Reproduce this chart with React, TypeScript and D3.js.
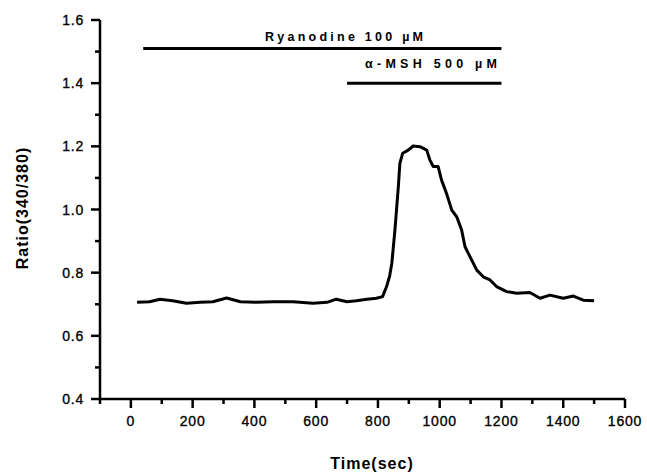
import React from "react";
import * as d3 from "d3";

const time = [20, 60, 95, 135, 180, 225, 265, 310, 355, 405, 460, 525, 590, 635, 665, 700, 730, 765, 795, 815, 828, 838, 845, 855, 866, 871, 880, 898, 914, 936, 958, 968, 979, 995, 1006, 1022, 1039, 1055, 1071, 1082, 1098, 1120, 1141, 1163, 1184, 1217, 1249, 1292, 1325, 1357, 1400, 1433, 1465, 1500];
const ratio = [0.706, 0.708, 0.716, 0.711, 0.703, 0.706, 0.708, 0.72, 0.708, 0.706, 0.708, 0.708, 0.703, 0.706, 0.716, 0.708, 0.711, 0.716, 0.719, 0.724, 0.756, 0.79, 0.83, 0.935, 1.072, 1.146, 1.178, 1.188, 1.201, 1.199, 1.188, 1.157, 1.136, 1.136, 1.093, 1.051, 0.998, 0.977, 0.935, 0.882, 0.851, 0.808, 0.787, 0.777, 0.756, 0.74, 0.735, 0.737, 0.719, 0.729, 0.719, 0.726, 0.713, 0.711];

const xMajorTicks = [0, 200, 400, 600, 800, 1000, 1200, 1400, 1600];
const xMinorTicks = [-100, 100, 300, 500, 700, 900, 1100, 1300, 1500];
const yMajorTicks = [0.4, 0.6, 0.8, 1.0, 1.2, 1.4, 1.6];
const yMinorTicks = [0.5, 0.7, 0.9, 1.1, 1.3, 1.5];

const bars = [
  { label: "Ryanodine 100 \u00b5M", start: 40, end: 1200, level: 1.51 },
  { label: "\u03b1-MSH 500 \u00b5M", start: 700, end: 1200, level: 1.4 },
];

export default function App() {
  const W = 647, H = 474;
  const x = d3.scaleLinear().domain([-100, 1600]).range([100, 625]);
  const y = d3.scaleLinear().domain([0.4, 1.6]).range([399, 20]);
  const pts = time.map((t, i) => [t, ratio[i]] as [number, number]);
  const line = d3.line<[number, number]>().x(d => x(d[0])).y(d => y(d[1]));
  const font = "'Liberation Sans', Arial, sans-serif";
  return (
    <svg width={W} height={H} style={{ position: "absolute", left: 0, top: 0, background: "#fff" }} fontFamily={font}>
      <rect width={W} height={H} fill="#fff" />
      <line x1={x(-100)} x2={x(-100)} y1={y(1.6)} y2={y(0.4)} stroke="#000" strokeWidth={2.5} />
      <line x1={x(-100)} x2={x(1600)} y1={y(0.4)} y2={y(0.4)} stroke="#000" strokeWidth={2.5} />
      {xMajorTicks.map(t => (
        <g key={"xm" + t}>
          <line x1={x(t)} x2={x(t)} y1={y(0.4)} y2={y(0.4) + 9} stroke="#000" strokeWidth={2.5} />
          <text x={x(t)} y={426} textAnchor="middle" fontSize={14} letterSpacing={0.8} stroke="#000" strokeWidth={0.35}>{t}</text>
        </g>
      ))}
      {xMinorTicks.map(t => (
        <line key={"xn" + t} x1={x(t)} x2={x(t)} y1={y(0.4)} y2={y(0.4) + 5} stroke="#000" strokeWidth={2.5} />
      ))}
      {yMajorTicks.map(v => (
        <g key={"ym" + v}>
          <line x1={x(-100) - 9} x2={x(-100)} y1={y(v)} y2={y(v)} stroke="#000" strokeWidth={2.5} />
          <text x={84} y={y(v) + 5} textAnchor="end" fontSize={14} letterSpacing={0.8} stroke="#000" strokeWidth={0.35}>{v.toFixed(1)}</text>
        </g>
      ))}
      {yMinorTicks.map(v => (
        <line key={"yn" + v} x1={x(-100) - 5} x2={x(-100)} y1={y(v)} y2={y(v)} stroke="#000" strokeWidth={2.5} />
      ))}
      <text x={372} y={469} textAnchor="middle" fontSize={16} fontWeight="bold" letterSpacing={1}>Time(sec)</text>
      <text transform="translate(28,208) rotate(-90)" textAnchor="middle" fontSize={16} fontWeight="bold" letterSpacing={1}>Ratio(340/380)</text>
      <line x1={x(bars[0].start)} x2={x(bars[0].end)} y1={y(bars[0].level)} y2={y(bars[0].level)} stroke="#000" strokeWidth={3} />
      <text x={265} y={41} fontSize={12.5} fontWeight="bold" textLength={158} lengthAdjust="spacing">{bars[0].label}</text>
      <line x1={x(bars[1].start)} x2={x(bars[1].end)} y1={y(bars[1].level)} y2={y(bars[1].level)} stroke="#000" strokeWidth={3} />
      <text x={365} y={68} fontSize={12.5} fontWeight="bold" textLength={132} lengthAdjust="spacing">{bars[1].label}</text>
      <path d={line(pts) || ""} fill="none" stroke="#000" strokeWidth={3} strokeLinejoin="round" />
    </svg>
  );
}
